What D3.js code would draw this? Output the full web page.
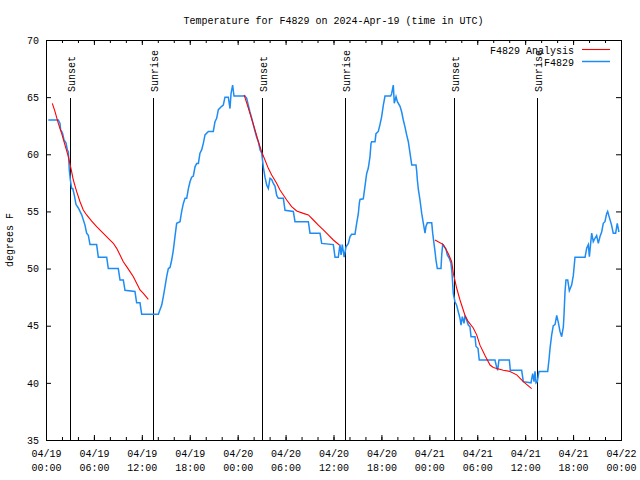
<!DOCTYPE html>
<html><head><meta charset="utf-8">
<script src="https://cdn.jsdelivr.net/npm/d3@7"></script>
<style>
body{margin:0;background:#fff;}
svg{display:block;}
</style></head><body>
<script>
const FONT = '"Liberation Mono","DejaVu Sans Mono",monospace';
const titleText = "Temperature for F4829 on 2024-Apr-19 (time in UTC)";
const yLabelText = "degrees F";
const startUTC = Date.UTC(2024, 3, 19, 0, 0);
const endHours = 72;
const xTickHours = [0, 6, 12, 18, 24, 30, 36, 42, 48, 54, 60, 66, 72];
const xMinorHours = [0,2,4,6,8,10,12,14,16,18,20,22,24,26,28,30,32,34,36,38,40,42,44,46,48,50,52,54,56,58,60,62,64,66,68,70,72];
const yTicks = [35, 40, 45, 50, 55, 60, 65, 70];
const legendLabels = ["F4829 Analysis", "F4829"];
const seriesColors = ["#ff0000", "#1e8cf5"];

// observations: hours since 2024-04-19 00:00 UTC, temperature degF
const obsHours = [0.29,1.54,1.75,1.84,1.96,2.09,2.25,2.5,2.67,2.8,2.92,3.05,3.21,3.35,3.55,3.76,4.05,4.47,4.88,5.09,5.3,5.51,6.34,6.55,7.6,7.8,9.05,9.27,9.68,9.89,11.14,11.35,11.77,11.98,14.07,14.27,14.49,14.69,14.9,15.11,15.32,15.53,15.74,15.94,16.15,16.36,16.78,16.99,17.2,17.41,17.62,17.83,18.03,18.24,18.45,18.66,18.87,19.08,19.28,19.5,19.7,19.91,20.33,20.95,21.16,21.37,21.58,22.0,22.2,22.41,22.83,23.04,23.17,23.37,23.54,24.92,25.13,25.33,25.54,25.76,25.96,26.17,26.38,26.59,26.8,27.01,27.21,27.42,27.64,27.84,28.05,28.26,28.47,28.68,28.89,29.09,29.72,29.93,30.97,31.18,32.85,33.06,34.31,34.52,35.98,36.19,36.6,36.81,36.95,37.1,37.33,37.57,37.86,38.07,38.27,38.69,38.9,39.11,39.23,39.32,39.73,39.94,40.15,40.36,40.57,40.7,40.78,41.2,41.32,41.61,41.82,42.03,42.24,42.45,43.16,43.28,43.49,43.61,43.83,44.0,44.33,44.54,44.74,44.95,45.16,45.37,45.58,45.8,46.33,46.42,46.5,46.63,46.83,47.05,47.25,47.46,47.58,47.75,48.3,48.42,48.58,48.71,48.83,49.0,49.46,49.55,49.67,50.09,50.25,50.5,50.71,50.84,51.0,51.21,51.42,51.63,51.84,51.97,52.13,52.34,52.47,52.67,52.88,53.09,53.22,53.72,53.84,54.1,54.25,56.22,56.42,56.55,56.72,58.02,58.14,59.56,59.77,60.73,60.94,61.11,61.23,61.36,61.52,61.73,62.82,62.98,63.11,63.32,63.52,63.74,63.95,64.15,64.36,64.57,64.78,64.86,64.99,65.11,65.33,65.53,65.82,66.03,66.24,67.5,67.71,67.91,68.04,68.2,68.33,68.53,68.74,68.95,69.16,69.37,69.58,69.78,69.99,70.2,70.33,70.53,70.82,71.03,71.33,71.53,71.74];
const obsTemps = [63.0,63.0,62.7,62.1,62.0,61.8,61.25,61.0,60.4,60.2,58.6,57.75,57.0,57.0,56.4,55.6,55.3,54.7,53.8,53.1,52.9,52.1,52.1,51.0,51.0,50.0,50.0,49.0,49.0,48.1,48.0,47.0,47.0,46.0,46.0,46.4,46.8,47.55,48.4,49.3,50.0,50.1,50.75,51.6,52.8,53.96,54.1,55.0,55.7,56.15,56.15,57.0,57.6,58.0,58.1,58.9,59.2,59.2,60.1,60.4,60.96,61.7,62.0,62.0,62.85,63.15,63.9,64.2,64.3,65.0,65.0,64.0,65.3,66.06,65.1,65.1,64.9,64.3,63.7,63.15,62.6,62.0,61.5,61.1,60.4,60.1,58.9,58.0,57.3,57.0,57.9,57.8,57.45,57.2,56.4,56.15,56.15,55.1,55.0,54.1,54.1,53.1,53.1,52.2,52.1,51.0,51.0,52.1,51.2,52.1,51.0,51.9,52.2,52.8,53.0,53.0,53.96,54.8,55.7,56.05,56.1,57.2,58.3,58.8,59.8,60.96,61.1,61.1,61.8,62.0,62.6,63.3,64.3,65.1,65.1,65.3,66.06,64.46,65.04,64.6,64.2,63.7,63.0,62.4,61.7,61.1,60.1,59.06,59.06,58.5,57.75,56.9,56.0,54.8,53.96,53.1,53.7,54.0,54.0,53.1,52.2,51.5,50.75,50.0,50.0,51.2,52.1,51.7,51.2,50.9,50.46,49.6,47.8,47.1,46.8,46.2,45.65,45.06,45.8,45.2,45.9,45.5,45.06,44.9,44.04,44.04,43.2,43.0,42.0,42.0,41.4,41.1,42.0,42.0,41.1,41.1,40.1,40.0,40.8,40.1,41.0,40.0,40.1,41.0,41.0,42.0,43.0,44.2,45.0,45.1,45.9,45.3,44.5,44.04,44.9,45.9,47.97,49.0,49.0,48.06,48.56,49.4,51.0,51.0,51.8,52.1,51.04,52.2,53.1,52.35,52.65,52.9,52.2,52.8,53.2,53.96,54.1,54.8,55.0,54.5,53.8,53.1,53.1,53.96,53.2];

// analysis: three separate runs (null = break)
const anaHours = [0.79,1.13,1.54,1.96,2.38,2.8,3.21,3.42,3.84,4.26,4.67,5.09,5.72,6.34,7.18,7.8,8.43,8.85,9.27,9.68,10.1,10.52,10.94,11.35,11.77,12.19,12.81,null,
  24.8,25.13,25.54,26.17,26.59,27.0,27.42,27.84,28.26,28.88,29.3,29.72,30.14,30.76,31.39,32.22,32.85,33.48,34.1,34.73,35.35,35.98,36.73,null,
  48.71,49.75,50.38,50.8,51.0,51.42,51.84,52.47,52.88,53.5,53.93,54.34,54.97,55.6,56.01,57.26,58.1,58.94,59.77,60.81];
const anaTemps = [64.46,63.73,62.71,61.83,60.81,59.79,58.48,57.75,56.73,55.85,55.13,54.69,54.16,53.67,53.08,52.65,52.21,51.77,51.19,50.6,50.17,49.73,49.29,48.71,48.13,47.83,47.31,null,
  65.2,64.5,63.58,62.13,61.1,60.23,59.5,58.77,58.19,57.46,56.88,56.44,56.0,55.42,55.04,54.83,54.69,54.25,53.81,53.38,52.94,52.5,52.06,null,
  52.5,52.1,51.3,50.6,49.6,48.3,47.25,45.9,45.35,44.8,44.2,43.3,42.4,41.56,41.35,41.1,41.0,40.7,40.1,39.5];

const sunHours = [3.0, 13.4, 27.05, 37.44, 51.09, 61.48];
const sunLabels = ["Sunset", "Sunrise", "Sunset", "Sunrise", "Sunset", "Sunrise"];

const W = 640, H = 480;
const L = 46, R = 621, T = 40, B = 440;
const toDate = h => new Date(startUTC + h * 3600e3);

const svg = d3.select("body").append("svg").attr("width", W).attr("height", H)
  .style("font-family", FONT).style("font-size", "10px");

const x = d3.scaleUtc().domain([toDate(0), toDate(endHours)]).range([L, R]);
const y = d3.scaleLinear().domain([35, 70]).range([B, T]);

function styleAxis(g){ g.attr("font-family", FONT).attr("font-size", 10); g.select(".domain").remove(); }

// minor x ticks bottom/top
svg.append("g").attr("transform", `translate(0,${B})`)
  .call(d3.axisBottom(x).tickValues(xMinorHours.map(toDate)).tickSizeInner(-3).tickSizeOuter(0).tickFormat(""))
  .call(styleAxis);
svg.append("g").attr("transform", `translate(0,${T})`)
  .call(d3.axisTop(x).tickValues(xMinorHours.map(toDate)).tickSizeInner(-3).tickSizeOuter(0).tickFormat(""))
  .call(styleAxis);

// major x ticks with two-line labels
const fmtD = d3.utcFormat("%m/%d"), fmtT = d3.utcFormat("%H:%M");
const gxb = svg.append("g").attr("transform", `translate(0,${B})`)
  .call(d3.axisBottom(x).tickValues(xTickHours.map(toDate)).tickSizeInner(-5).tickSizeOuter(0).tickFormat(fmtD))
  .call(styleAxis);
gxb.selectAll(".tick text").each(function(d){
  const t = d3.select(this);
  t.text(null).attr("y", null).attr("dy", null).attr("fill", "#000");
  t.append("tspan").attr("x", 0).attr("y", 17).text(fmtD(d));
  t.append("tspan").attr("x", 0).attr("y", 31).text(fmtT(d));
});
svg.append("g").attr("transform", `translate(0,${T})`)
  .call(d3.axisTop(x).tickValues(xTickHours.map(toDate)).tickSizeInner(-5).tickSizeOuter(0).tickFormat(""))
  .call(styleAxis);

// y axis
svg.append("g").attr("transform", `translate(${L},0)`)
  .call(d3.axisLeft(y).tickValues(yTicks).tickSizeInner(-5).tickSizeOuter(0).tickPadding(7).tickFormat(d3.format("d")))
  .call(styleAxis)
  .selectAll(".tick text").attr("fill", "#000");
svg.append("g").attr("transform", `translate(${R},0)`)
  .call(d3.axisRight(y).tickValues(yTicks).tickSizeInner(-5).tickSizeOuter(0).tickFormat(""))
  .call(styleAxis);

// frame
svg.append("rect").attr("x", L + 0.5).attr("y", T + 0.5).attr("width", R - L).attr("height", B - T)
  .attr("fill", "none").attr("stroke", "#000").attr("stroke-width", 1);

// sunrise / sunset lines
const sunG = svg.append("g");
sunHours.forEach((h, i) => {
  const sx = Math.round(x(toDate(h))) + 0.5;
  sunG.append("line").attr("x1", sx).attr("x2", sx).attr("y1", 98).attr("y2", B)
    .attr("stroke", "#000").attr("stroke-width", 1);
  sunG.append("text").attr("transform", `translate(${sx + 4.5},92) rotate(-90)`)
    .attr("text-anchor", "start").attr("fill", "#000").text(sunLabels[i]);
});

// series
const obs = obsHours.map((h, i) => ({ t: toDate(h), v: obsTemps[i] }));
const ana = anaHours.map((h, i) => ({ t: h == null ? null : toDate(h), v: anaTemps[i] }));

const line = d3.line().defined(d => d.t != null && d.v != null).x(d => x(d.t)).y(d => y(d.v));

svg.append("path").datum(obs).attr("d", line).attr("fill", "none")
  .attr("stroke", seriesColors[1]).attr("stroke-width", 1.5).attr("stroke-linejoin", "miter");
svg.append("path").datum(ana).attr("d", line).attr("fill", "none")
  .attr("stroke", seriesColors[0]).attr("stroke-width", 1.1);

// legend
legendLabels.forEach((lab, i) => {
  const ly = 50 + i * 12;
  svg.append("text").attr("x", 574).attr("y", ly).attr("dy", "0.35em")
    .attr("text-anchor", "end").attr("fill", "#000").text(lab);
  svg.append("line").attr("x1", 582).attr("x2", 610).attr("y1", ly - 0.5).attr("y2", ly - 0.5)
    .attr("stroke", seriesColors[i]).attr("stroke-width", i === 0 ? 1.1 : 1.5);
});

// title & y label
svg.append("text").attr("x", (L + R) / 2).attr("y", 20).attr("dy", "0.35em")
  .attr("text-anchor", "middle").attr("fill", "#000").text(titleText);
svg.append("text").attr("transform", `translate(13,${(T + B) / 2}) rotate(-90)`)
  .attr("text-anchor", "middle").attr("fill", "#000").text(yLabelText);
</script>
</body></html>
